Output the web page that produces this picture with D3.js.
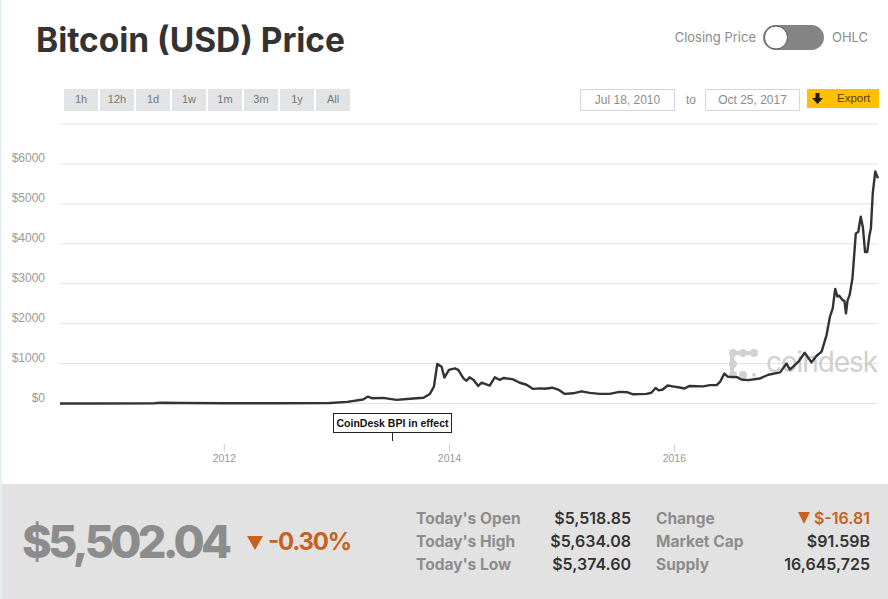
<!DOCTYPE html>
<html>
<head>
<meta charset="utf-8">
<title>Bitcoin (USD) Price</title>
<script src="https://cdn.jsdelivr.net/npm/d3@7"></script>
<style>
  html, body { margin: 0; padding: 0; background: #fff; overflow: hidden; }
  svg { display: block; }
  text { font-family: "Liberation Sans", Arial, sans-serif; }
  .brand { font-family: Inter, Lato, sans-serif; }
  .axis text { fill: #999; }
  .axis .domain { display: none; }
</style>
</head>
<body>
<svg width="888" height="599"></svg>
<script>
const DATES = [
  '2010-07-18', '2010-11-10', '2011-05-20', '2011-06-10', '2011-08-10', '2012-01-01', '2012-07-01', '2012-12-10',
  '2013-02-05', '2013-03-28', '2013-04-12', '2013-04-28', '2013-06-01', '2013-07-15', '2013-08-28', '2013-10-10',
  '2013-10-31', '2013-11-13', '2013-11-24', '2013-12-08', '2013-12-17', '2014-01-01', '2014-01-20', '2014-01-31',
  '2014-02-17', '2014-02-27', '2014-03-09', '2014-03-22', '2014-04-06', '2014-04-17', '2014-05-13', '2014-05-30',
  '2014-06-15', '2014-06-28', '2014-07-28', '2014-08-19', '2014-09-10', '2014-10-01', '2014-10-23', '2014-11-08',
  '2014-12-02', '2014-12-24', '2015-01-12', '2015-02-08', '2015-03-07', '2015-04-03', '2015-05-05', '2015-06-07',
  '2015-07-08', '2015-08-04', '2015-08-22', '2015-10-04', '2015-10-20', '2015-11-03', '2015-11-13', '2015-11-26',
  '2015-12-12', '2015-12-28', '2016-01-20', '2016-02-05', '2016-02-21', '2016-04-05', '2016-04-27', '2016-05-19',
  '2016-05-30', '2016-06-13', '2016-06-24', '2016-07-24', '2016-08-07', '2016-08-29', '2016-10-06', '2016-11-03',
  '2016-12-11', '2017-01-01', '2017-01-12', '2017-02-08', '2017-03-01', '2017-03-23', '2017-04-08', '2017-04-25',
  '2017-05-11', '2017-05-22', '2017-05-31', '2017-06-08', '2017-06-15', '2017-06-21', '2017-07-02', '2017-07-08',
  '2017-07-13', '2017-07-18', '2017-07-25', '2017-08-03', '2017-08-14', '2017-08-22', '2017-08-30', '2017-09-06',
  '2017-09-13', '2017-09-20', '2017-09-27', '2017-10-02', '2017-10-08', '2017-10-16', '2017-10-25'
];
const PRICES = [
  0, 1, 7, 20, 12, 5, 8, 13,
  40, 100, 170, 130, 140, 90, 120, 145,
  240, 420, 990, 920, 650, 840, 880, 840,
  630, 570, 655, 590, 440, 520, 450, 655,
  590, 640, 605, 520, 470, 365, 380, 370,
  395, 340, 240, 255, 305, 265, 240, 240,
  290, 280, 230, 240, 270, 390, 330, 350,
  450, 430, 400, 375, 440, 430, 460, 460,
  540, 750, 670, 660, 600, 585, 625, 720,
  780, 1000, 850, 1040, 1270, 1030, 1190, 1300,
  1715, 2175, 2380, 2870, 2680, 2700, 2590, 2570,
  2260, 2575, 2720, 3135, 4260, 4300, 4680, 4410,
  3790, 3790, 4200, 4390, 5265, 5810, 5640
];
const Y_GRID = [0, 1000, 2000, 3000, 4000, 5000, 6000, 7000];
const Y_LABELS = [0, 1000, 2000, 3000, 4000, 5000, 6000];
const X_TICKS = ['2012-01-01', '2014-01-01', '2016-01-01'];
const RANGES = ['1h', '12h', '1d', '1w', '1m', '3m', '1y', 'All'];
const FROM_TO = ['Jul 18, 2010', 'Oct 25, 2017'];
const BPI_DATE = '2013-06-29';
const BPI_TEXT = 'CoinDesk BPI in effect';
const STATS_LEFT = ["Today's Open", "Today's High", "Today's Low"];
const STATS_LEFT_VALUES = ['$5,518.85', '$5,634.08', '$5,374.60'];
const STATS_RIGHT = ['Change', 'Market Cap', 'Supply'];
const STATS_RIGHT_VALUES = ['$-16.81', '$91.59B', '16,645,725'];

const ORANGE = '#c8601f';
const GREY = '#8c8c8c';
const DARK = '#333';

let parse = d3.utcParse('%Y-%m-%d');
let svg = d3.select('svg');

let x = d3.scaleUtc()
  .domain([parse(DATES[0]), parse(DATES[DATES.length - 1])])
  .range([60, 878]);
let y = d3.scaleLinear().domain([0, 7000]).range([403.5, 124]);

// page edge and stats panel
svg.append('rect').attr('x', 0).attr('y', 0).attr('width', 1.5).attr('height', 599).attr('fill', '#e4edf2');
svg.append('rect').attr('x', 1.5).attr('y', 484).attr('width', 887).attr('height', 115).attr('fill', '#e2e2e2');

svg.append('text')
  .attr('class', 'brand')
  .attr('x', 36).attr('y', 51.5)
  .attr('font-size', 33.5).attr('font-weight', 700)
  .attr('textLength', 309)
  .attr('fill', DARK)
  .text('Bitcoin (USD) Price');

// closing price / ohlc toggle
svg.append('text').attr('class', 'brand').attr('x', 756).attr('y', 42)
  .attr('text-anchor', 'end').attr('font-size', 13).attr('fill', GREY).text('Closing Price');
svg.append('rect').attr('x', 763).attr('y', 25).attr('width', 61).attr('height', 25).attr('rx', 12.5).attr('fill', '#848484');
svg.append('circle').attr('cx', 776).attr('cy', 37.5).attr('r', 11.5).attr('fill', '#fff').attr('stroke', '#555').attr('stroke-width', 1);
svg.append('text').attr('class', 'brand').attr('x', 832).attr('y', 42)
  .attr('font-size', 13).attr('fill', GREY).text('OHLC');

// range buttons
let buttons = svg.selectAll('.range')
  .data(RANGES)
  .enter()
  .append('g')
  .attr('class', 'range')
  .attr('transform', (d, i) => 'translate(' + (64 + i * 36) + ',89)');
buttons.append('rect').attr('width', 34).attr('height', 22).attr('fill', '#e1e3e5');
buttons.append('text')
  .attr('x', 17).attr('y', 14)
  .attr('text-anchor', 'middle')
  .attr('font-size', 11).attr('fill', '#777')
  .text((d) => d);

// date inputs
let inputs = svg.selectAll('.date-input')
  .data(FROM_TO)
  .enter()
  .append('g')
  .attr('class', 'date-input')
  .attr('transform', (d, i) => 'translate(' + (i === 0 ? 580.5 : 705.5) + ',89.5)');
inputs.append('rect').attr('width', 94).attr('height', 21).attr('fill', '#fff').attr('stroke', '#d4d4d4');
inputs.append('text')
  .attr('x', 47).attr('y', 14)
  .attr('text-anchor', 'middle')
  .attr('font-size', 12).attr('fill', GREY)
  .text((d) => d);
svg.append('text').attr('x', 691).attr('y', 103.5).attr('text-anchor', 'middle')
  .attr('font-size', 12).attr('fill', GREY).text('to');

// export button
svg.append('rect').attr('x', 807).attr('y', 89).attr('width', 72).attr('height', 19).attr('fill', '#ffc000');
svg.append('path')
  .attr('d', 'M815.5 93h4v5h3.5l-5.500 6-5.500-6h3.500z')
  .attr('fill', '#1c1c1c');
svg.append('text').attr('x', 837).attr('y', 102).attr('font-size', 11.5).attr('fill', '#5a3d12').text('Export');

// grid
svg.append('g')
  .selectAll('line')
  .data(Y_GRID)
  .enter()
  .append('line')
  .attr('x1', 60).attr('x2', 878)
  .attr('y1', (d) => y(d)).attr('y2', (d) => y(d))
  .attr('stroke', '#e3e3e3').attr('stroke-width', 1);

svg.append('g')
  .attr('class', 'axis y')
  .attr('transform', 'translate(45,-6)')
  .call(d3.axisLeft(y).tickValues(Y_LABELS).tickSize(0).tickPadding(0).tickFormat((d) => '$' + d))
  .selectAll('text')
  .attr('font-size', 12);

svg.append('g')
  .attr('class', 'axis x')
  .attr('transform', 'translate(0,444)')
  .call(d3.axisBottom(x).tickValues(X_TICKS.map(parse)).tickSize(8).tickPadding(3).tickFormat(d3.utcFormat('%Y')))
  .call((g) => g.selectAll('text').attr('font-size', 10.5))
  .selectAll('line')
  .attr('stroke', '#c5d3e0');

// coindesk watermark, sits under the line
let logo = svg.append('g').attr('fill', '#d2d2d2');
logo.append('rect').attr('x', 731).attr('y', 351).attr('width', 24).attr('height', 4);
logo.append('rect').attr('x', 730).attr('y', 353).attr('width', 4).attr('height', 22);
[[733, 353], [743, 353], [754, 353], [733, 364], [733, 375], [743, 375]].forEach((c) => {
  logo.append('circle').attr('cx', c[0]).attr('cy', c[1]).attr('r', 4);
});
logo.append('circle').attr('cx', 754).attr('cy', 375).attr('r', 2);
svg.append('text')
  .attr('class', 'brand')
  .attr('x', 766).attr('y', 372)
  .attr('font-size', 28).attr('fill', '#cfcfcf')
  .attr('textLength', 112)
  .text('coindesk');

// price line
let line = d3.line()
  .x((d, i) => x(parse(DATES[i])))
  .y((d) => y(d));
svg.append('path')
  .datum(PRICES)
  .attr('d', line)
  .attr('fill', 'none')
  .attr('stroke', DARK)
  .attr('stroke-width', 2.4)
  .attr('stroke-linejoin', 'round');

// BPI flag
let bpiX = Math.round(x(parse(BPI_DATE))) + 0.5;
svg.append('line').attr('x1', bpiX).attr('x2', bpiX).attr('y1', 432).attr('y2', 441).attr('stroke', '#222');
svg.append('rect').attr('x', bpiX - 59).attr('y', 413.5).attr('width', 118).attr('height', 19)
  .attr('fill', '#fff').attr('stroke', '#222');
svg.append('text').attr('x', bpiX).attr('y', 427).attr('text-anchor', 'middle')
  .attr('font-size', 10.5).attr('font-weight', 700).attr('fill', '#111').text(BPI_TEXT);

// stats panel
svg.append('text').attr('class', 'brand').attr('x', 22).attr('y', 558)
  .attr('font-size', 45).attr('font-weight', 800).attr('fill', GREY).attr('textLength', 210).text('$5,502.04');
svg.append('path').attr('d', 'M247 536h16l-8 14z').attr('fill', ORANGE);
svg.append('text').attr('class', 'brand').attr('x', 268).attr('y', 550)
  .attr('font-size', 24).attr('font-weight', 700).attr('fill', ORANGE).attr('textLength', 84).text('-0.30%');

function statColumn(labels, values, labelX, valueX) {
  let rowY = (d, i) => 524 + i * 23;
  svg.append('g').selectAll('text')
    .data(labels)
    .enter()
    .append('text')
    .attr('class', 'brand')
    .attr('x', labelX).attr('y', rowY)
    .attr('font-size', 15.5).attr('font-weight', 700).attr('fill', GREY)
    .text((d) => d);
  svg.append('g').selectAll('text')
    .data(values)
    .enter()
    .append('text')
    .attr('class', 'brand')
    .attr('x', valueX).attr('y', rowY)
    .attr('text-anchor', 'end')
    .attr('font-size', 16).attr('font-weight', 600)
    .attr('fill', (d) => d.startsWith('$-') ? ORANGE : DARK)
    .text((d) => d);
}
statColumn(STATS_LEFT, STATS_LEFT_VALUES, 416, 631);
statColumn(STATS_RIGHT, STATS_RIGHT_VALUES, 656, 870);
svg.append('path').attr('d', 'M798 512h12l-6 12z').attr('fill', ORANGE);
</script>
</body>
</html>
